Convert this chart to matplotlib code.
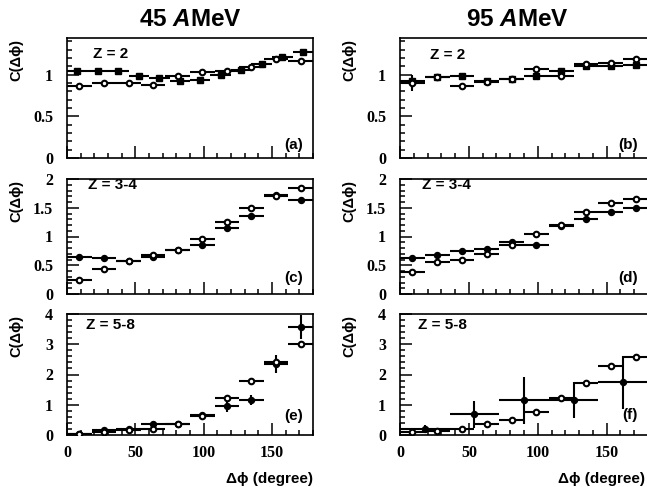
import matplotlib
matplotlib.use("Agg")
import matplotlib.pyplot as plt
from matplotlib.ticker import MultipleLocator, FormatStrFormatter

plt.rcParams["font.family"] = ["Liberation Sans", "DejaVu Sans"]
plt.rcParams["mathtext.fontset"] = "custom"
plt.rcParams["mathtext.rm"] = "Liberation Sans:bold"
plt.rcParams["mathtext.it"] = "Liberation Sans:bold:italic"

W, H = 647, 487

# bin centres (degrees)
bins15 = [7.5, 22.5, 37.5, 52.5, 67.5, 82.5, 97.5, 112.5, 127.5, 142.5, 157.5, 172.5]
bins18 = [9, 27, 45, 63, 81, 99, 117, 135, 153, 171]
bins36 = [18, 54, 90, 126, 162]

# (a) 45 AMeV, Z = 2
a_fill = [1.04, 1.04, 1.05, 0.99, 0.96, 0.93, 0.94, 1.00, 1.06, 1.13, 1.21, 1.27]
a_fill_err = [0.02] * 12
a_open = [0.87, 0.90, 0.90, 0.88, 0.99, 1.03, 1.04, 1.09, 1.19, 1.17]
a_open_err = [0.02] * 10

# (b) 95 AMeV, Z = 2
b_fill = [0.92, 0.97, 0.98, 0.93, 0.95, 0.98, 1.04, 1.10, 1.11, 1.12]
b_fill_err = [0.02] * 10
b_open = [0.90, 0.97, 0.87, 0.91, 0.95, 1.07, 0.98, 1.13, 1.14, 1.19]
b_open_err = [0.1, 0.02, 0.03, 0.02, 0.02, 0.03, 0.02, 0.03, 0.03, 0.04]

# (c) 45 AMeV, Z = 3-4
c_fill = [0.65, 0.63, 0.57, 0.65, 0.76, 0.85, 1.14, 1.36, 1.72, 1.63]
c_fill_err = [0.03] * 10
c_open = [0.25, 0.44, 0.57, 0.67, 0.77, 0.95, 1.25, 1.50, 1.70, 1.85]
c_open_err = [0.03] * 10

# (d) 95 AMeV, Z = 3-4
d_fill = [0.63, 0.68, 0.75, 0.78, 0.90, 0.85, 1.19, 1.30, 1.42, 1.50]
d_fill_err = [0.03] * 10
d_open = [0.38, 0.55, 0.60, 0.70, 0.86, 1.04, 1.20, 1.42, 1.59, 1.66]
d_open_err = [0.03] * 10

# (e) 45 AMeV, Z = 5-8
e_fill = [0.03, 0.15, 0.19, 0.38, 0.38, 0.65, 0.95, 1.15, 2.34, 3.58]
e_fill_err = [0.01, 0.03, 0.03, 0.05, 0.05, 0.08, 0.18, 0.17, 0.30, 0.40]
e_open = [0.02, 0.11, 0.17, 0.20, 0.36, 0.62, 1.21, 1.78, 2.40, 3.02]
e_open_err = [0.01, 0.02, 0.02, 0.04, 0.04, 0.05, 0.08, 0.08, 0.15, 0.10]

# (f) 95 AMeV, Z = 5-8
f_fill = [0.20, 0.68, 1.15, 1.15, 1.74]
f_fill_err = [0.12, 0.45, 0.78, 0.60, 0.87]
f_open = [0.10, 0.14, 0.20, 0.37, 0.51, 0.75, 1.22, 1.71, 2.28, 2.59]
f_open_err = [0.02, 0.02, 0.03, 0.04, 0.04, 0.05, 0.06, 0.06, 0.08, 0.08]

panels = [
    # x_fill, y_fill, err, half width, marker, x_open, y_open, err, label, tag, ylim, major, minor
    (bins15, a_fill, a_fill_err, 7.5, "s", bins18, a_open, a_open_err, "Z = 2", "(a)", 1.44, 0.5, 0.1),
    (bins18, b_fill, b_fill_err, 9, "s", bins18, b_open, b_open_err, "Z = 2", "(b)", 1.44, 0.5, 0.1),
    (bins18, c_fill, c_fill_err, 9, "o", bins18, c_open, c_open_err, "Z = 3-4", "(c)", 2.0, 0.5, 0.1),
    (bins18, d_fill, d_fill_err, 9, "o", bins18, d_open, d_open_err, "Z = 3-4", "(d)", 2.0, 0.5, 0.1),
    (bins18, e_fill, e_fill_err, 9, "o", bins18, e_open, e_open_err, "Z = 5-8", "(e)", 4.0, 1, 0.2),
    (bins36, f_fill, f_fill_err, 18, "o", bins18, f_open, f_open_err, "Z = 5-8", "(f)", 4.0, 1, 0.2),
]

# panel frames in pixels: (left, right) and (top, bottom)
cols = [(67, 313), (400, 648)]
rows = [(38, 158), (179, 294), (314, 435)]
zpos = [(0.106, 0.81), (0.12, 0.80), (0.085, 0.89), (0.09, 0.89), (0.077, 0.85), (0.073, 0.85)]
tagy = [0.05, 0.05, 0.08, 0.08, 0.10, 0.11]

fig = plt.figure(figsize=(W / 100, H / 100), dpi=100)

serif = {"family": "Liberation Serif", "weight": "bold", "size": 11.5}

for i, p in enumerate(panels):
    xf, yf, ef, wf, mk, xo, yo, eo, zlab, tag, ytop, major, minor = p
    r, c = divmod(i, 2)
    l, rr = cols[c]
    t, b = rows[r]
    ax = fig.add_axes([l / W, 1 - b / H, (rr - l) / W, (b - t) / H])

    ax.errorbar(xf, yf, xerr=wf, yerr=ef, fmt=mk, color="black", ms=4.3,
                elinewidth=1.5, capsize=0, zorder=3)
    ax.errorbar(xo, yo, xerr=9, yerr=eo, fmt="o", color="black", mfc="white",
                mec="black", mew=1.5, ms=4.0, elinewidth=1.5, capsize=0, zorder=4)

    ax.set_xlim(0, 180)
    ax.set_ylim(0, ytop)
    ax.xaxis.set_major_locator(MultipleLocator(50))
    ax.xaxis.set_minor_locator(MultipleLocator(10))
    ax.yaxis.set_major_locator(MultipleLocator(major))
    ax.yaxis.set_minor_locator(MultipleLocator(minor))
    ax.yaxis.set_major_formatter(FormatStrFormatter("%g"))
    ax.tick_params(which="both", direction="in", top=False, right=False, width=1.1)
    ax.tick_params(which="major", length=8.5)
    ax.tick_params(which="minor", length=3.8)
    ax.tick_params(axis="y", pad=10)
    ax.tick_params(axis="x", pad=7)
    for s in ax.spines.values():
        s.set_linewidth(1.2)
    for lab in ax.get_yticklabels() + ax.get_xticklabels():
        lab.set_fontproperties(serif)
        lab.set_fontsize(11.5)
    if r < 2:
        ax.set_xticklabels([])
    else:
        ax.set_xlabel("Δϕ (degree)", fontsize=11, fontweight="bold", loc="right")
        ax.xaxis.set_label_coords((645 - l) / (rr - l) if c else 1.0, -(472 - b) / (b - t))

    ax.set_ylabel("C(Δϕ)", fontsize=10.5, fontweight="bold", loc="top")
    ax.yaxis.set_label_coords(-44 / (rr - l), 0.99)

    ax.text(zpos[i][0], zpos[i][1], zlab, transform=ax.transAxes,
            fontsize=11, fontweight="bold", ha="left", va="bottom")
    ax.text((303 - 67) / 246, tagy[i], tag, transform=ax.transAxes,
            fontsize=11, fontweight="bold", ha="right", va="bottom")

fig.text(190 / W, 1 - 26 / H, "45 $\\mathit{A}$MeV", fontsize=17.5, fontweight="bold",
         ha="center", va="baseline")
fig.text(517 / W, 1 - 26 / H, "95 $\\mathit{A}$MeV", fontsize=17.5, fontweight="bold",
         ha="center", va="baseline")

fig.savefig("out.png", dpi=100)
